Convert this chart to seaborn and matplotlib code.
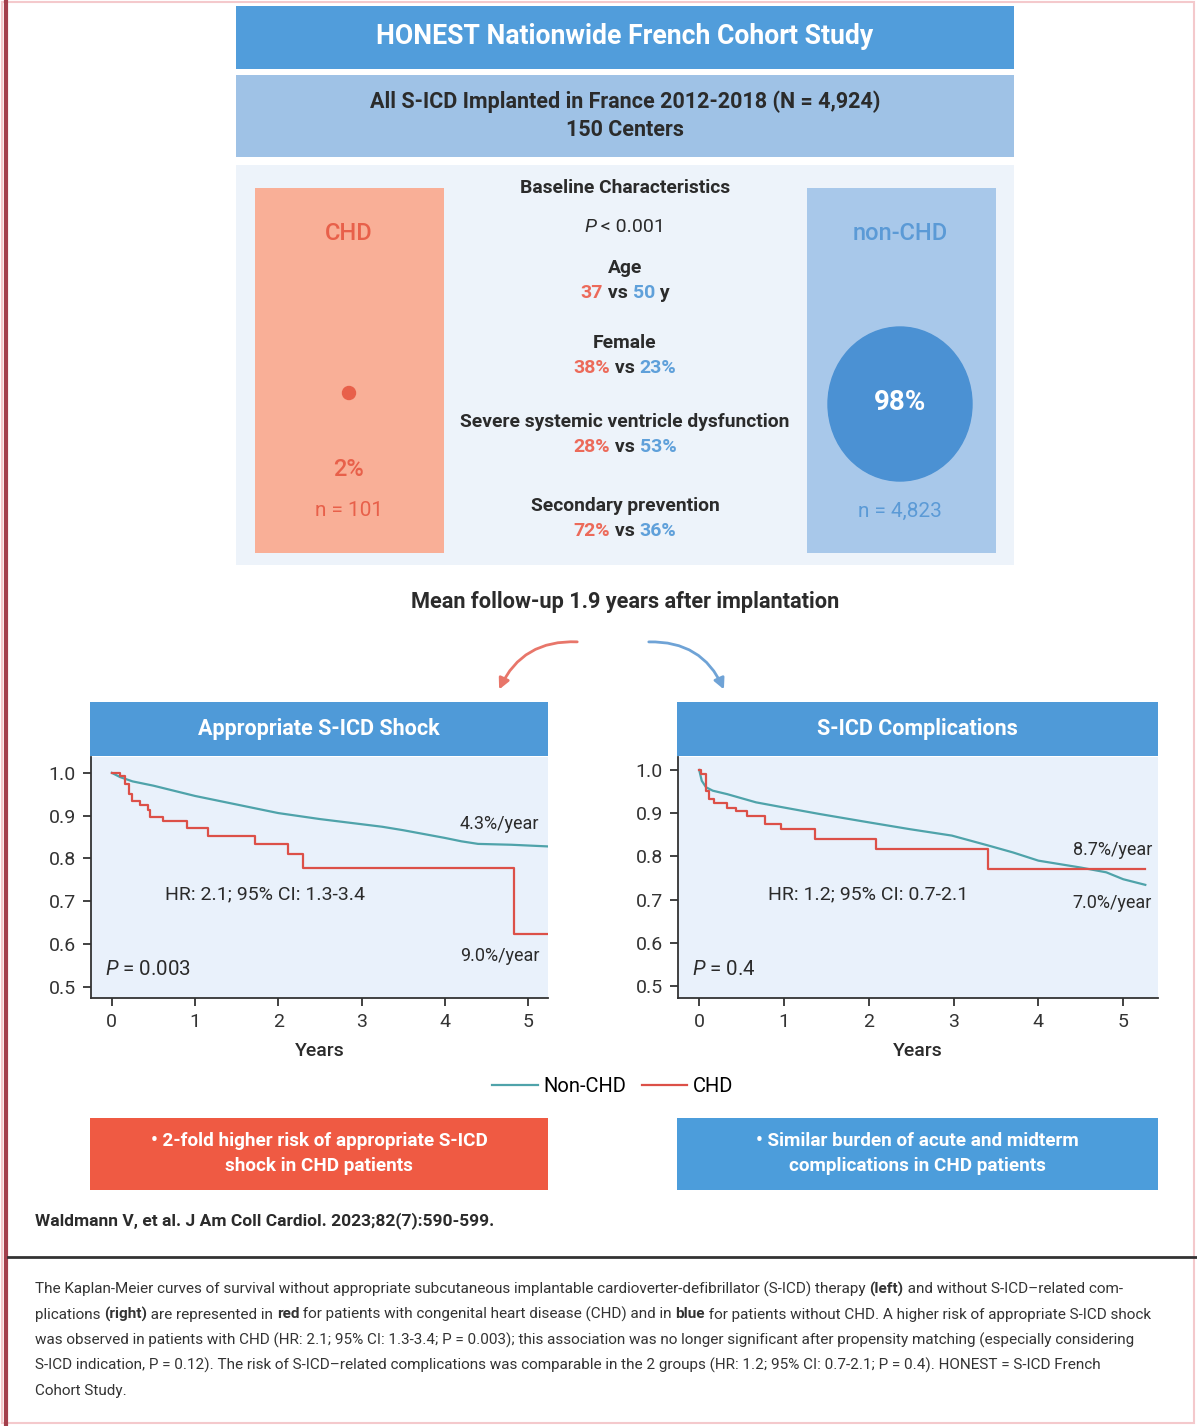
import numpy as np
import pandas as pd
import seaborn as sns
import matplotlib.pyplot as plt
from matplotlib.patches import Rectangle, Ellipse, FancyArrowPatch

# ---- data ----
shock_nonchd_t = [0, 0.1, 0.25, 0.5, 0.75, 1.0, 1.25, 1.5, 1.75, 2.0, 2.25, 2.5, 2.75,
                  3.0, 3.25, 3.5, 3.75, 4.0, 4.2, 4.4, 4.8, 5.25]
shock_nonchd_s = [1.0, 0.99, 0.98, 0.97, 0.958, 0.946, 0.936, 0.926, 0.916, 0.906, 0.899,
                  0.892, 0.886, 0.880, 0.874, 0.866, 0.857, 0.848, 0.840, 0.834, 0.832, 0.828]
shock_chd_t = [0, 0.1, 0.16, 0.21, 0.24, 0.34, 0.44, 0.46, 0.62, 0.9, 1.16, 1.72, 2.12,
               2.3, 4.83, 5.25]
shock_chd_s = [1.0, 0.992, 0.973, 0.95, 0.934, 0.926, 0.914, 0.898, 0.887, 0.87, 0.852,
               0.834, 0.81, 0.778, 0.623, 0.623]

comp_nonchd_t = [0, 0.03, 0.08, 0.16, 0.33, 0.67, 1.0, 1.42, 1.99, 2.48, 2.98, 3.41, 3.7,
                 4.0, 4.5, 4.8, 5.0, 5.26]
comp_nonchd_s = [1.0, 0.975, 0.96, 0.952, 0.944, 0.925, 0.913, 0.898, 0.879, 0.863, 0.848,
                 0.825, 0.809, 0.79, 0.774, 0.763, 0.747, 0.734]
comp_chd_t = [0, 0.025, 0.076, 0.118, 0.18, 0.33, 0.43, 0.56, 0.77, 0.96, 1.37, 2.09,
              3.41, 5.26]
comp_chd_s = [1.0, 0.99, 0.952, 0.933, 0.923, 0.913, 0.904, 0.894, 0.875, 0.863, 0.84,
              0.817, 0.77, 0.77]

groups = ["Non-CHD", "CHD"]
baseline_items = ["Age", "Female", "Severe systemic ventricle dysfunction", "Secondary prevention"]
baseline_chd = ["37", "38%", "28%", "72%"]
baseline_nonchd = ["50", "23%", "53%", "36%"]
baseline_units = [" y", "", "", ""]
n_chd, n_nonchd = 101, 4823
pct_chd, pct_nonchd = 2, 98

# caption lines, as (text, bold) pieces
caption_lines = [
    [("The Kaplan-Meier curves of survival without appropriate subcutaneous implantable cardioverter-defibrillator (S-ICD) therapy ", False),
     ("(left)", True), (" and without S-ICD\u2013related com-", False)],
    [("plications ", False), ("(right)", True), (" are represented in ", False), ("red", True),
     (" for patients with congenital heart disease (CHD) and in ", False), ("blue", True),
     (" for patients without CHD. A higher risk of appropriate S-ICD shock", False)],
    [("was observed in patients with CHD (HR: 2.1; 95% CI: 1.3-3.4; P = 0.003); this association was no longer significant after propensity matching (especially considering", False)],
    [("S-ICD indication, P = 0.12). The risk of S-ICD\u2013related complications was comparable in the 2 groups (HR: 1.2; 95% CI: 0.7-2.1; P = 0.4). HONEST = S-ICD French", False)],
    [("Cohort Study.", False)],
]

# ---- colours ----
TEAL = "#4fa3aa"
RED = "#dc5048"
CHD_TXT = "#e8604a"
NON_TXT = "#5b9ad6"
DARK = "#2b2b2b"
FONT = ["Roboto", "DejaVu Sans"]
plt.rcParams["mathtext.fontset"] = "custom"
plt.rcParams["mathtext.it"] = "Roboto:italic"
plt.rcParams["mathtext.rm"] = "Roboto"

W, H = 1197, 1426
fig = plt.figure(figsize=(W / 100, H / 100), dpi=100)
bg = fig.add_axes([0, 0, 1, 1])
bg.set_xlim(0, W)
bg.set_ylim(H, 0)
bg.axis("off")
rend = fig.canvas.get_renderer()


def box(x0, y0, x1, y1, color):
    bg.add_patch(Rectangle((x0, y0), x1 - x0, y1 - y0, color=color, lw=0))


def txt(x, y, s, size, color=DARK, weight="bold", ha="center", style="normal"):
    return bg.text(x, y, s, fontsize=size, color=color, fontweight=weight, ha=ha,
                   va="center", family=FONT, style=style)


def rich(x, y, parts, size, weight="bold", ha="center"):
    # parts: (text, colour, style[, weight])
    items = []
    for p in parts:
        s, c, st = p[:3]
        wt = p[3] if len(p) > 3 else weight
        t = bg.text(0, y, s, fontsize=size, color=c, fontweight=wt, style=st,
                    ha="left", va="center", family=FONT)
        items.append((t, t.get_window_extent(renderer=rend).width))
    x0 = x - sum(w for _, w in items) / 2 if ha == "center" else x
    for t, w in items:
        t.set_x(x0)
        x0 += w


# border
bg.add_patch(Rectangle((2, 2), W - 5, H - 5, fill=False, ec="#f4c9cc", lw=1.5))
bg.plot([6, 6], [0, H], color="#a3404c", lw=3)
bg.plot([8, W], [1257, 1257], color="#333333", lw=2)

# header
box(236, 6, 1014, 69, "#519ddb")
txt(625, 37, "HONEST Nationwide French Cohort Study", 19.2, "white")
box(236, 75, 1014, 157, "#9fc2e6")
txt(625, 102, "All S-ICD Implanted in France 2012-2018 (N = 4,924)", 15.5)
txt(625, 130, "150 Centers", 15.5)

# baseline panel
box(236, 165, 1014, 565, "#edf3fa")
box(255, 188, 444, 553, "#f9af97")
box(807, 188, 996, 553, "#a8c8ea")
txt(349, 233, "CHD", 17, CHD_TXT, weight="medium")
bg.add_patch(Ellipse((349, 393), 13, 13, color="#e8604a"))
txt(349, 469, f"{pct_chd}%", 17, CHD_TXT, weight="medium")
txt(349, 511, f"n = {n_chd}", 15, CHD_TXT, weight="normal")
txt(900, 233, "non-CHD", 17, NON_TXT, weight="medium")
bg.add_patch(Ellipse((900, 404), 144, 154, color="#4b91d3"))
txt(900, 403, f"{pct_nonchd}%", 20, "white")
txt(900, 511, f"n = {n_nonchd:,}", 15, NON_TXT, weight="normal")

txt(625, 188, "Baseline Characteristics", 13.9)
rich(625, 227, [("P", DARK, "italic"), (" < 0.001", DARK, "normal")], 14, weight="normal")
label_y = [268, 343, 422, 506]
for item, a, b, u, yy in zip(baseline_items, baseline_chd, baseline_nonchd, baseline_units, label_y):
    txt(625, yy, item, 13.9)
    rich(625, yy + 25, [(a, "#ec6a5a", "normal"), (" vs ", DARK, "normal"),
                        (b, "#5fa0da", "normal"), (u, DARK, "normal")], 14)

txt(625, 602, "Mean follow-up 1.9 years after implantation", 15.7)

# arrows
bg.add_patch(FancyArrowPatch((580, 642), (498, 692), connectionstyle="arc3,rad=0.35",
                             arrowstyle="-|>", mutation_scale=16, color="#e8766a", lw=2))
bg.add_patch(FancyArrowPatch((646, 642), (725, 692), connectionstyle="arc3,rad=-0.35",
                             arrowstyle="-|>", mutation_scale=16, color="#6fa3d6", lw=2))

# panel headers
box(90, 702, 548, 756, "#4f9ad8")
box(677, 702, 1158, 756, "#4f9ad8")
txt(319, 729, "Appropriate S-ICD Shock", 15.5, "white")
txt(917, 729, "S-ICD Complications", 15.5, "white")


def km_axes(px0, px1, xlim, ylim):
    ax = fig.add_axes([px0 / W, (H - 998) / H, (px1 - px0) / W, (998 - 757) / H])
    ax.set_facecolor("#e9f1fb")
    ax.set_xlim(*xlim)
    ax.set_ylim(*ylim)
    ax.set_xticks(range(6))
    ax.set_yticks([0.5, 0.6, 0.7, 0.8, 0.9, 1.0])
    ax.set_yticklabels(["0.5", "0.6", "0.7", "0.8", "0.9", "1.0"])
    for s in ["top", "right"]:
        ax.spines[s].set_visible(False)
    for s in ["left", "bottom"]:
        ax.spines[s].set_color("#333333")
        ax.spines[s].set_linewidth(1.3)
    ax.tick_params(length=6, width=1.3, colors="#333333", labelsize=14, pad=5)
    for lab in ax.get_xticklabels() + ax.get_yticklabels():
        lab.set_family(FONT)
    return ax


def draw_km(ax, t_non, s_non, t_chd, s_chd):
    d_non = pd.DataFrame({"t": t_non, "s": s_non})
    d_chd = pd.DataFrame({"t": t_chd, "s": s_chd})
    sns.lineplot(data=d_non, x="t", y="s", ax=ax, color=TEAL, lw=1.6,
                 label=groups[0], legend=False)
    sns.lineplot(data=d_chd, x="t", y="s", ax=ax, color=RED, lw=1.6,
                 drawstyle="steps-post", label=groups[1], legend=False)
    ax.set_xlabel("Years", fontsize=14, family=FONT, color=DARK, labelpad=8, fontweight="medium")
    ax.set_ylabel("")


def note(ax, x, y, s, size=13, ha="center"):
    ax.text(x, y, s, ha=ha, va="center", fontsize=size, family=FONT, color=DARK)


ax1 = km_axes(91, 548, (-0.25, 5.24), (0.474, 1.037))
draw_km(ax1, shock_nonchd_t, shock_nonchd_s, shock_chd_t, shock_chd_s)
note(ax1, 4.66, 0.881, "4.3%/year", 13)
note(ax1, 1.84, 0.717, "HR: 2.1; 95% CI: 1.3-3.4", 14)
note(ax1, 4.66, 0.572, "9.0%/year", 13)
note(ax1, -0.08, 0.54, "$\\it{P}$ = 0.003", 14.8, ha="left")

ax2 = km_axes(678, 1158, (-0.25, 5.41), (0.472, 1.030))
draw_km(ax2, comp_nonchd_t, comp_nonchd_s, comp_chd_t, comp_chd_s)
note(ax2, 4.87, 0.815, "8.7%/year", 13)
note(ax2, 4.87, 0.692, "7.0%/year", 13)
note(ax2, 1.99, 0.713, "HR: 1.2; 95% CI: 0.7-2.1", 14)
note(ax2, -0.08, 0.537, "$\\it{P}$ = 0.4", 14.8, ha="left")

handles, labels = ax1.get_legend_handles_labels()
fig.legend(handles, labels, loc="center", bbox_to_anchor=(0.512, 1 - 1087 / H), ncol=2,
           frameon=False, handlelength=2.25, columnspacing=0.75, handletextpad=0.3,
           prop={"family": FONT, "size": 14.5})

# conclusion boxes
box(90, 1118, 548, 1190, "#ef5a43")
box(677, 1118, 1158, 1190, "#4c9ddb")
txt(319, 1141, "\u2022 2-fold higher risk of appropriate S-ICD", 13.6, "white")
txt(319, 1166, "shock in CHD patients", 13.6, "white")
txt(917, 1141, "\u2022 Similar burden of acute and midterm", 13.6, "white")
txt(917, 1166, "complications in CHD patients", 13.6, "white")

txt(35, 1221, "Waldmann V, et al. J Am Coll Cardiol. 2023;82(7):590-599.", 12.5, ha="left")

for i, line in enumerate(caption_lines):
    parts = [(s, "#333333", "normal", "bold" if b else "normal") for s, b in line]
    rich(35, 1289 + i * 25.5, parts, 11.0, ha="left")

fig.savefig("out.png", dpi=100)
